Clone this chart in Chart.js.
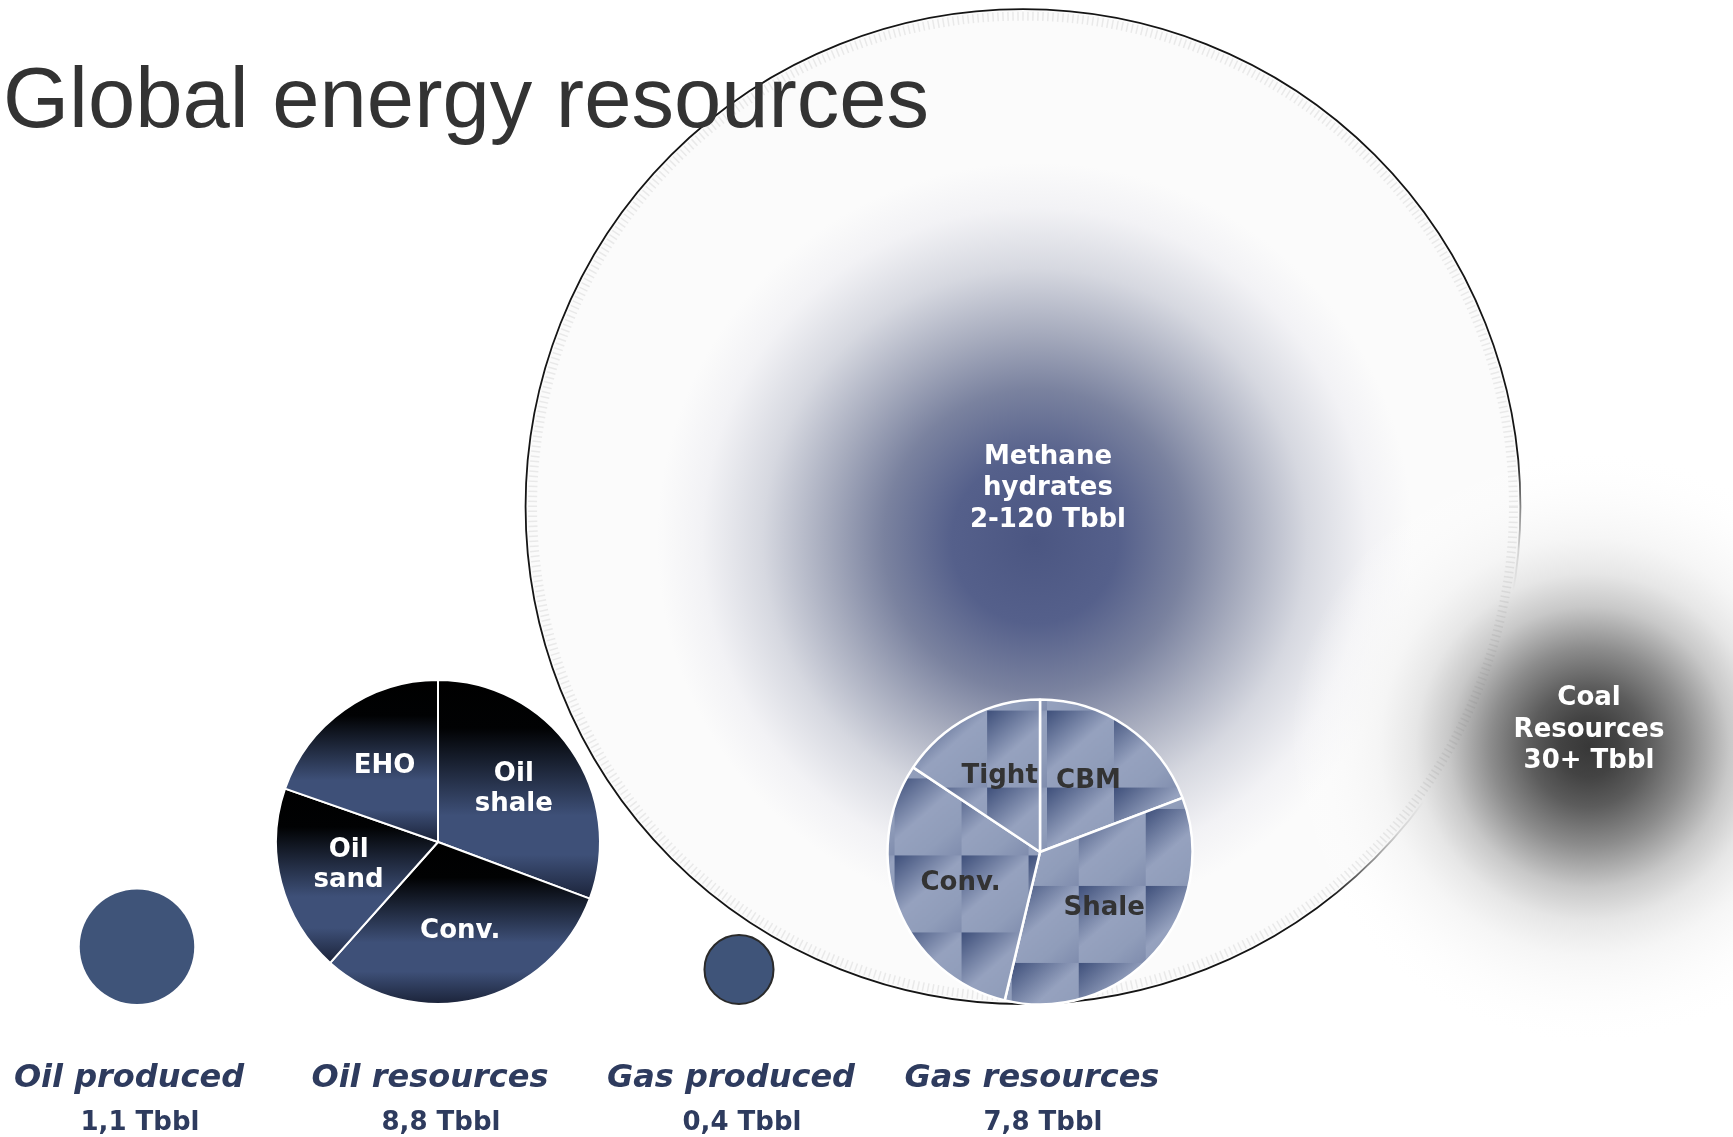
<!DOCTYPE html>
<html>
<head>
<meta charset="utf-8">
<title>Global energy resources</title>
<script src="https://cdn.jsdelivr.net/npm/chart.js@4.4.1/dist/chart.umd.min.js"></script>
<style>
  html, body { margin: 0; padding: 0; background: #ffffff; }
  #stage { position: relative; width: 1733px; height: 1137px; overflow: hidden; }
  #stage canvas { position: absolute; }
</style>
</head>
<body>
<div id="stage">
  <canvas id="main" width="1733" height="1137" style="left:0;top:0"></canvas>
  <canvas id="oilPie"></canvas>
  <canvas id="gasPie"></canvas>
</div>
<script>
// ---- data (Tbbl = trillion barrels of oil equivalent) ----
const categories  = ['Oil produced', 'Oil resources', 'Gas produced', 'Gas resources'];
const totals      = [1.1, 8.8, 0.4, 7.8];
const totalLabels = ['1,1 Tbbl', '8,8 Tbbl', '0,4 Tbbl', '7,8 Tbbl'];

const oilLabels = [['Oil', 'shale'], ['Conv.'], ['Oil', 'sand'], ['EHO']];
const oilValues = [2.70, 2.72, 1.65, 1.73];

const gasLabels = [['CBM'], ['Shale'], ['Conv.'], ['Tight']];
const gasValues = [1.50, 2.69, 2.39, 1.22];

const methaneLabel = ['Methane', 'hydrates', '2-120 Tbbl'];
const methaneSize  = 83;          // bubble size, within the 2-120 Tbbl range
const coalLabel    = ['Coal', 'Resources', '30+ Tbbl'];
const coalValue    = 30;

const titleText = 'Global energy resources';

// ---- layout ----
const ROOT_SCALE = 54.6;                       // px of radius per sqrt(Tbbl): bubble area ~ volume
const radiusOf = v => ROOT_SCALE * Math.sqrt(v);
const X_RANGE = { min: -0.4551, max: 5.3023 }; // category slots along the ground line
const Y_RANGE = { min: -133, max: 1004 };      // height above the ground line, px
const methaneSlot = 2.9435;
const coalSlot = 4.824;
const coalLift = 257;                          // coal glow centre above the ground line
const NAVY = '#3f5479';
const LABEL_NAVY = '#2e3b5e';
const BOLD = '"DejaVu Sans", Verdana, sans-serif';

function methaneFill(ctx, x, y, r) {
  const gx = x + 12, gy = y + 34, gr = r * 0.76;
  const g = ctx.createRadialGradient(gx, gy, 0, gx, gy, gr);
  g.addColorStop(0.00, '#4b5682');
  g.addColorStop(0.22, '#55608b');
  g.addColorStop(0.40, '#7a829f');
  g.addColorStop(0.55, '#a6abbd');
  g.addColorStop(0.72, '#d6d8e0');
  g.addColorStop(0.88, '#f2f2f5');
  g.addColorStop(1.00, '#fbfbfb');
  return g;
}

function coalGlow(ctx, x, y, r) {
  const g = ctx.createRadialGradient(x, y, 0, x, y, r);
  g.addColorStop(0.00, '#383838');
  g.addColorStop(0.10, '#434343');
  g.addColorStop(0.20, '#5c5c5c');
  g.addColorStop(0.33, '#8c8c8c');
  g.addColorStop(0.47, '#c8c8c8');
  g.addColorStop(0.58, '#e6e6e6');
  g.addColorStop(0.70, 'rgba(244,244,244,0.85)');
  g.addColorStop(0.85, 'rgba(250,250,250,0.45)');
  g.addColorStop(1.00, 'rgba(255,255,255,0)');
  return g;
}

function setFill(el, fill) {
  if (Object.isFrozen(el.options)) el.options = Object.assign({}, el.options);
  el.options.backgroundColor = fill;
}

function drawLines(ctx, lines, x, firstBaseline, lineHeight) {
  lines.forEach((t, i) => ctx.fillText(t, x, firstBaseline + i * lineHeight));
}

// gradient fills need the final pixel geometry of each bubble
const bubbleFills = {
  id: 'bubbleFills',
  beforeDatasetsDraw(chart) {
    const fills = { 1: coalGlow, 2: methaneFill };
    Object.keys(fills).forEach(di => {
      const el = chart.getDatasetMeta(+di).data[0];
      const p = el.getProps(['x', 'y'], true);
      setFill(el, fills[di](chart.ctx, p.x, p.y, el.options.radius));
    });
  }
};

const pageText = {
  id: 'pageText',
  beforeDraw(chart) {
    const c = chart.ctx;
    c.save();
    c.fillStyle = '#ffffff';
    c.fillRect(0, 0, chart.width, chart.height);
    c.restore();
  },
  afterDatasetsDraw(chart) {
    const c = chart.ctx;
    c.save();
    // grainy rim just inside the hydrate bubble
    const mEl = chart.getDatasetMeta(2).data[0];
    const mc = mEl.getProps(['x', 'y'], true);
    const mr = mEl.options.radius;
    c.setLineDash([1.5, 3.5]);
    c.strokeStyle = 'rgba(110,110,110,0.12)';
    c.lineWidth = 9;
    c.beginPath();
    c.arc(mc.x, mc.y, mr - 7, 0, Math.PI * 2);
    c.stroke();
    c.setLineDash([]);

    // title
    c.fillStyle = '#333333';
    c.font = '85px "Liberation Sans", Arial, sans-serif';
    c.textAlign = 'left';
    c.textBaseline = 'alphabetic';
    c.fillText(titleText, 3, 127);

    // bubble captions
    c.textAlign = 'center';
    c.fillStyle = '#ffffff';
    c.font = 'bold 26px ' + BOLD;
    drawLines(c, methaneLabel, mc.x + 25, mc.y - 43, 31.5);
    const kc = chart.getDatasetMeta(1).data[0].getProps(['x', 'y'], true);
    drawLines(c, coalLabel, kc.x, kc.y - 42, 31.5);

    // category captions along the ground line
    categories.forEach((name, i) => {
      const x = chart.scales.x.getPixelForValue(i);
      c.fillStyle = LABEL_NAVY;
      c.font = 'italic bold 32px ' + BOLD;
      c.fillText(name, x - 8, 1087);
      c.font = 'bold 26px ' + BOLD;
      c.fillText(totalLabels[i], x + 3, 1130);
    });
    c.restore();
  }
};

const producedIdx = [0, 2];
const mainChart = new Chart(document.getElementById('main'), {
  type: 'bubble',
  data: {
    datasets: [
      {
        label: 'Produced',
        order: 1,
        data: producedIdx.map(i => ({ x: i, y: radiusOf(totals[i]), r: radiusOf(totals[i]) })),
        backgroundColor: NAVY,
        borderColor: [NAVY, '#2a2a2a'],
        borderWidth: [0, 2]
      },
      {
        label: 'Coal resources',
        order: 2,
        data: [{ x: coalSlot, y: coalLift, r: radiusOf(coalValue) }],
        backgroundColor: () => '#8c8c8c',
        borderWidth: 0
      },
      {
        label: 'Methane hydrates',
        order: 3,
        data: [{ x: methaneSlot, y: radiusOf(methaneSize), r: radiusOf(methaneSize) }],
        backgroundColor: () => '#fbfbfb',
        borderColor: '#151515',
        borderWidth: 1.8
      }
    ]
  },
  options: {
    responsive: false,
    animation: false,
    events: [],
    layout: { padding: 0, autoPadding: false },
    scales: {
      x: { type: 'linear', display: false, min: X_RANGE.min, max: X_RANGE.max },
      y: { type: 'linear', display: false, min: Y_RANGE.min, max: Y_RANGE.max }
    },
    plugins: { legend: { display: false }, tooltip: { enabled: false } }
  },
  plugins: [bubbleFills, pageText]
});

// ---- pies ----
function sectorBox(p) {
  const pts = [[p.x, p.y],
    [p.x + Math.cos(p.startAngle) * p.outerRadius, p.y + Math.sin(p.startAngle) * p.outerRadius],
    [p.x + Math.cos(p.endAngle) * p.outerRadius, p.y + Math.sin(p.endAngle) * p.outerRadius]];
  for (let k = -4; k <= 8; k++) {
    const a = k * Math.PI / 2;
    if (a > p.startAngle && a < p.endAngle) {
      pts.push([p.x + Math.cos(a) * p.outerRadius, p.y + Math.sin(a) * p.outerRadius]);
    }
  }
  const xs = pts.map(q => q[0]), ys = pts.map(q => q[1]);
  return { left: Math.min(...xs), right: Math.max(...xs), top: Math.min(...ys), bottom: Math.max(...ys) };
}

function oilSliceFill(ctx, box) {
  const g = ctx.createLinearGradient(0, box.top, 0, box.bottom);
  g.addColorStop(0.00, '#000000');
  g.addColorStop(0.22, '#010203');
  g.addColorStop(0.62, '#3e5078');
  g.addColorStop(0.80, '#3e5078');
  g.addColorStop(1.00, '#1b2339');
  return g;
}

const gasTile = (() => {
  const t = document.createElement('canvas');
  t.width = 67; t.height = 77;
  const c = t.getContext('2d');
  const g = c.createLinearGradient(0, 0, 67, 77);
  g.addColorStop(0.00, '#3f507b');
  g.addColorStop(0.46, '#96a2bf');
  g.addColorStop(0.75, '#909dba');
  g.addColorStop(1.00, '#808dae');
  c.fillStyle = g;
  c.fillRect(0, 0, 67, 77);
  return t;
})();

function gasSliceFill(ctx, box) {
  const pat = ctx.createPattern(gasTile, 'repeat');
  if (pat.setTransform) pat.setTransform(new DOMMatrix([1, 0, 0, 1, box.left + 7, box.top + 11]));
  return pat;
}

function slicePlugin(fillFn, labels, textColor, labelReach) {
  return {
    id: 'slices',
    beforeDatasetsDraw(chart) {
      chart.getDatasetMeta(0).data.forEach(arc => {
        const p = arc.getProps(['x', 'y', 'startAngle', 'endAngle', 'outerRadius'], true);
        setFill(arc, fillFn(chart.ctx, sectorBox(p)));
      });
    },
    afterDatasetsDraw(chart) {
      const c = chart.ctx;
      c.save();
      c.fillStyle = textColor;
      c.font = 'bold 26px ' + BOLD;
      c.textAlign = 'center';
      c.textBaseline = 'middle';
      chart.getDatasetMeta(0).data.forEach((arc, i) => {
        const p = arc.getProps(['x', 'y', 'startAngle', 'endAngle', 'outerRadius'], true);
        const mid = (p.startAngle + p.endAngle) / 2;
        const lx = p.x + Math.cos(mid) * p.outerRadius * labelReach;
        const ly = p.y + Math.sin(mid) * p.outerRadius * labelReach;
        const lines = labels[i];
        lines.forEach((t, j) => c.fillText(t, lx, ly + (j - (lines.length - 1) / 2) * 30));
      });
      c.restore();
    }
  };
}

function makePie(canvasId, idx, labels, values, fillFn, textColor, borderWidth, labelReach) {
  const r = radiusOf(totals[idx]);
  const cx = mainChart.scales.x.getPixelForValue(idx);
  const cy = mainChart.scales.y.getPixelForValue(r);
  const size = 2 * Math.ceil(r) + 12;
  const cv = document.getElementById(canvasId);
  cv.width = size; cv.height = size;
  cv.style.left = (cx - size / 2) + 'px';
  cv.style.top = (cy - size / 2) + 'px';
  return new Chart(cv, {
    type: 'pie',
    data: {
      labels: labels.map(l => l.join(' ')),
      datasets: [{
        data: values,
        backgroundColor: () => NAVY,
        borderColor: '#ffffff',
        borderWidth: borderWidth
      }]
    },
    options: {
      responsive: false,
      animation: false,
      events: [],
      radius: r,
      layout: { padding: 0 },
      plugins: { legend: { display: false }, tooltip: { enabled: false } }
    },
    plugins: [slicePlugin(fillFn, labels, textColor, labelReach)]
  });
}

makePie('oilPie', 1, oilLabels, oilValues, oilSliceFill, '#ffffff', 2, 0.57);
makePie('gasPie', 3, gasLabels, gasValues, gasSliceFill, '#333333', 2.5, 0.56);
</script>
</body>
</html>
